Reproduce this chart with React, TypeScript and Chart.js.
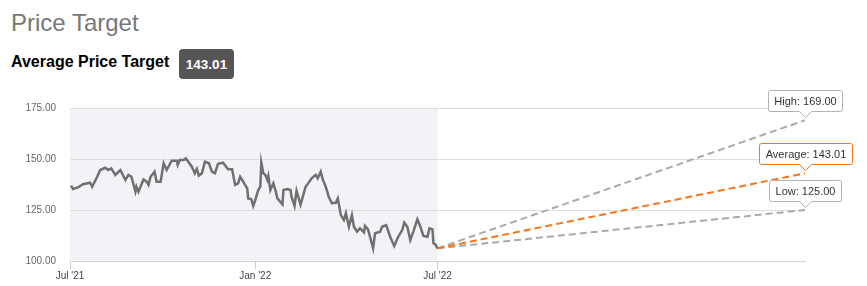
import React, { useEffect, useRef } from "react";
import { Chart, registerables } from "chart.js";

Chart.register(...registerables);

// Days since 1 Jul 2021
const priceDays = [
  1, 3, 8, 13, 20, 22, 27, 30, 35, 38, 41, 45, 50, 55, 58, 61, 65, 66, 68, 73,
  76, 78, 80, 84, 86, 90, 93, 96, 101, 106, 107, 109, 113, 115, 121, 124, 126, 128, 131, 134,
  138, 141, 144, 147, 152, 157, 161, 164, 167, 169, 172, 176, 177, 180, 182, 184, 187, 189, 190, 192,
  194, 196, 197, 199, 202, 204, 206, 211, 212, 216, 219, 220, 223, 225, 229, 234, 237, 240, 244, 246,
  249, 251, 254, 257, 260, 264, 266, 269, 272, 274, 277, 280, 282, 285, 288, 292, 293, 296, 298, 301,
  303, 308, 310, 314, 318, 322, 326, 330, 332, 335, 338, 341, 345, 348, 351, 355, 357, 360, 361, 363,
  365,
];
const priceValues = [
  136.9, 135.3, 136.1, 137.6, 138.4, 136.4, 141.3, 144.6, 145.7, 144.6, 145.4, 142.2, 144.6, 139.7, 142.2, 141.3, 134.0, 136.4, 134.0, 140.0,
  138.9, 137.3, 141.3, 143.8, 138.9, 138.9, 147.9, 144.6, 149.2, 149.2, 147.1, 149.5, 149.5, 150.3, 146.2, 143.0, 145.1, 141.8, 143.0, 148.7,
  147.9, 143.8, 143.0, 147.6, 148.2, 145.0, 145.0, 137.3, 138.1, 141.3, 138.9, 135.6, 130.7, 130.4, 127.0, 129.9, 134.8, 136.4, 148.2, 143.0,
  142.2, 139.7, 141.7, 134.8, 138.1, 134.8, 130.7, 127.8, 134.8, 135.3, 134.8, 131.5, 127.0, 134.4, 127.6, 136.4, 138.4, 140.5, 142.2, 140.5,
  143.8, 140.0, 136.4, 131.5, 128.3, 128.5, 130.7, 122.5, 120.1, 123.4, 116.8, 122.5, 116.8, 114.4, 116.0, 114.0, 117.2, 115.5, 111.9, 106.2,
  113.6, 114.4, 116.8, 117.6, 111.9, 107.4, 111.9, 115.2, 118.8, 116.8, 110.3, 114.4, 120.4, 116.8, 112.3, 111.9, 116.0, 115.5, 108.7, 108.0,
  106.2,
];

const forecastEndDay = 730;
const targetLabels = ["High", "Average", "Low"];
const targetValues = [169.0, 143.01, 125.0];
const targetColors = ["#aaaaaa", "#f5761a", "#aaaaaa"];
const targetBorderColors = ["#b3b3b3", "#f5761a", "#b3b3b3"];

const xTickDays = [0, 184, 365];
const xTickLabels = ["Jul '21", "Jan '22", "Jul '22"];
const yTicks = [100, 125, 150, 175];

const FONT = '"Liberation Sans", Arial, Helvetica, sans-serif';

const shadePlugin = {
  id: "historyShade",
  beforeDraw(chart: any) {
    const { ctx, chartArea, scales } = chart;
    const x0 = scales.x.getPixelForValue(0);
    const x1 = scales.x.getPixelForValue(priceDays[priceDays.length - 1]);
    ctx.save();
    ctx.fillStyle = "#f2f3f7";
    ctx.fillRect(x0, chartArea.top, x1 - x0, chartArea.bottom - chartArea.top);
    ctx.restore();
  },
};

const labelPlugin = {
  id: "targetLabels",
  afterDraw(chart: any) {
    const { ctx, scales } = chart;
    ctx.save();
    ctx.font = `11px ${FONT}`;
    targetLabels.forEach((lab, i) => {
      const px = scales.x.getPixelForValue(forecastEndDay);
      const py = scales.y.getPixelForValue(targetValues[i]);
      const text = `${lab}: ${targetValues[i].toFixed(2)}`;
      const w = Math.round(ctx.measureText(text).width + 12);
      const h = 21;
      const bottom = Math.round(py - 9.5) + 0.5;
      const top = bottom - h;
      const left = Math.round(px - w / 2) + 0.5;
      const right = left + w;
      const r = 2;
      const cx = Math.round(px) + 0.5;
      ctx.beginPath();
      ctx.moveTo(left + r, top);
      ctx.lineTo(right - r, top);
      ctx.quadraticCurveTo(right, top, right, top + r);
      ctx.lineTo(right, bottom - r);
      ctx.quadraticCurveTo(right, bottom, right - r, bottom);
      ctx.lineTo(cx + 6, bottom);
      ctx.lineTo(cx, bottom + 6);
      ctx.lineTo(cx - 6, bottom);
      ctx.lineTo(left + r, bottom);
      ctx.quadraticCurveTo(left, bottom, left, bottom - r);
      ctx.lineTo(left, top + r);
      ctx.quadraticCurveTo(left, top, left + r, top);
      ctx.closePath();
      ctx.fillStyle = "#ffffff";
      ctx.fill();
      ctx.lineWidth = 1;
      ctx.strokeStyle = targetBorderColors[i];
      ctx.stroke();
      ctx.fillStyle = "#333333";
      ctx.textAlign = "center";
      ctx.textBaseline = "middle";
      ctx.fillText(text, (left + right) / 2, top + h / 2 + 0.5);
    });
    ctx.restore();
  },
};

export default function App() {
  const canvasRef = useRef<HTMLCanvasElement | null>(null);

  useEffect(() => {
    if (!canvasRef.current) return;
    const lastDay = priceDays[priceDays.length - 1];
    const lastPrice = priceValues[priceValues.length - 1];
    const forecastSets = targetLabels.map((lab, i) => ({
      label: lab,
      data: [
        { x: lastDay, y: lastPrice },
        { x: forecastEndDay, y: targetValues[i] },
      ],
      borderColor: targetColors[i],
      borderWidth: 2,
      borderDash: [7, 4],
      pointRadius: 0,
      fill: false,
      order: i === 1 ? 1 : 2 + i,
    }));
    const chart = new Chart(canvasRef.current, {
      type: "line",
      data: {
        datasets: [
          {
            label: "Price",
            data: priceDays.map((d, i) => ({ x: d, y: priceValues[i] })),
            borderColor: "#707070",
            borderWidth: 2.5,
            pointRadius: 0,
            tension: 0,
            fill: false,
            order: 0,
          },
          ...forecastSets,
        ] as any,
      },
      options: {
        animation: false,
        responsive: false,
        maintainAspectRatio: false,
        layout: { padding: { top: 22, right: 62, left: 0, bottom: 0 } },
        plugins: { legend: { display: false }, tooltip: { enabled: false } },
        scales: {
          x: {
            type: "linear",
            min: 0,
            max: forecastEndDay,
            afterBuildTicks: (scale: any) => {
              scale.ticks = xTickDays.map((v) => ({ value: v }));
            },
            afterFit: (scale: any) => {
              scale.height = 25;
            },
            ticks: {
              autoSkip: false,
              maxRotation: 0,
              padding: 1,
              color: "#444444",
              font: { family: FONT, size: 10 },
              callback: (v: any) => {
                const idx = xTickDays.indexOf(Number(v));
                return idx >= 0 ? xTickLabels[idx] : "";
              },
            },
            grid: {
              drawOnChartArea: false,
              drawTicks: true,
              tickLength: 8,
              color: "#cccccc",
            },
            border: { display: true, color: "#d6d6d6" },
          },
          y: {
            min: 100,
            max: 175,
            afterBuildTicks: (scale: any) => {
              scale.ticks = yTicks.map((v) => ({ value: v }));
            },
            afterFit: (scale: any) => {
              scale.width = 70;
            },
            ticks: {
              padding: 14,
              color: "#666666",
              font: { family: FONT, size: 10 },
              callback: (v: any) => Number(v).toFixed(2),
            },
            grid: { color: "#dddddd", drawTicks: false },
            border: { display: false },
          },
        },
      },
      plugins: [shadePlugin, labelPlugin],
    });
    return () => chart.destroy();
  }, []);

  return (
    <div
      style={{
        position: "fixed",
        left: 0,
        top: 0,
        width: 867,
        height: 286,
        background: "#ffffff",
        fontFamily: FONT,
        overflow: "hidden",
      }}
    >
      <div
        style={{
          position: "absolute",
          left: 11,
          top: 9,
          fontSize: 24,
          color: "#777777",
          whiteSpace: "nowrap",
        }}
      >
        Price Target
      </div>
      <div
        style={{
          position: "absolute",
          left: 11,
          top: 53,
          fontSize: 16,
          fontWeight: "bold",
          color: "#000000",
          whiteSpace: "nowrap",
        }}
      >
        Average Price Target
      </div>
      <div
        style={{
          position: "absolute",
          left: 179,
          top: 49,
          width: 55,
          height: 30,
          borderRadius: 4,
          background: "#555555",
          color: "#ffffff",
          fontWeight: "bold",
          fontSize: 13.5,
          display: "flex",
          alignItems: "center",
          justifyContent: "center",
        }}
      >
        {targetValues[1].toFixed(2)}
      </div>
      <canvas
        ref={canvasRef}
        width={867}
        height={200}
        style={{ position: "absolute", left: 0, top: 86, width: 867, height: 200 }}
      />
    </div>
  );
}
